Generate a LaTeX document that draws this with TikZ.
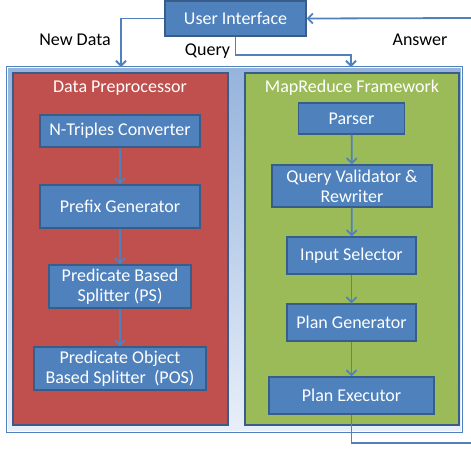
\documentclass[tikz,border=0pt]{standalone}
\usepackage{fontspec}
\setmainfont{Carlito}
\usetikzlibrary{arrows.meta}
\definecolor{boxblue}{HTML}{4F81BD}
\definecolor{boxedge}{HTML}{385D8A}
\definecolor{redfill}{HTML}{C0504D}
\definecolor{greenfill}{HTML}{9BBB59}
\definecolor{outertop}{HTML}{95B3DC}
\definecolor{outerbot}{HTML}{E8EFF9}
\tikzset{
  proc/.style={draw=boxedge, line width=1.2pt, fill=boxblue, text=white, align=center,
    inner sep=0pt, font=\fontsize{18}{20}\selectfont},
  conn/.style={draw=boxblue, line width=1.8pt, -{Straight Barb[length=5pt,width=10pt]}},
  plain/.style={draw=boxblue, line width=1.8pt},
  lbl/.style={font=\fontsize{18}{20}\selectfont, text=black},
  ttl/.style={font=\fontsize{18}{20}\selectfont, text=white},
}
\begin{document}
\begin{tikzpicture}[x=1pt,y=-1pt]
\useasboundingbox (0,0) rectangle (471,448);
% containers
\node[draw=boxblue, line width=1.5pt, top color=outertop, bottom color=outerbot,
  minimum width=455pt, minimum height=365pt, inner sep=0pt] (outer) at (234.5,249.5) {};
\draw[white, line width=0.8pt] ([shift={(1.6pt,1.6pt)}]outer.south west) rectangle ([shift={(-1.6pt,-1.6pt)}]outer.north east);
\node[draw=boxedge, line width=1.2pt, fill=redfill, minimum width=215pt, minimum height=352pt, inner sep=0pt] (dp) at (120.5,249) {};
\node[draw=boxedge, line width=1.2pt, fill=greenfill, minimum width=214pt, minimum height=352pt, inner sep=0pt] (mr) at (352,249) {};
\node[ttl] (dpt) at (120,88) {Data Preprocessor};
\node[ttl] (mrt) at (352,88) {MapReduce Framework};
% top
\node[proc, minimum width=141pt, minimum height=35pt] (ui) at (235.5,18.5) {User Interface};
% left column
\node[proc, minimum width=160pt, minimum height=32pt] (nt) at (120,131) {N-Triples Converter};
\node[proc, minimum width=160pt, minimum height=43pt] (pg) at (120,206.5) {Prefix Generator};
\node[proc, minimum width=142pt, minimum height=43pt] (ps) at (120,286.5) {Predicate Based\\Splitter (PS)};
\node[proc, minimum width=172pt, minimum height=43pt] (pos) at (120,368.5) {Predicate Object\\Based Splitter\ \ (POS)};
% right column
\node[proc, minimum width=106pt, minimum height=31pt] (parser) at (351.5,118.5) {Parser};
\node[proc, minimum width=160pt, minimum height=42pt] (qv) at (352,186) {Query Validator \&\\Rewriter};
\node[proc, minimum width=129pt, minimum height=37pt] (is) at (351.5,255.5) {Input Selector};
\node[proc, minimum width=129pt, minimum height=37pt] (pgen) at (351.5,322.5) {Plan Generator};
\node[proc, minimum width=165pt, minimum height=37pt] (pe) at (351.5,395.5) {Plan Executor};
% labels
\node[lbl] (ndl) at (75,40) {New Data};
\node[lbl] (ql) at (207.5,51) {Query};
\node[lbl] (al) at (420,40) {Answer};
% connectors
\coordinate (ndEnd) at (121,67);
\coordinate (qEnd) at (351,67);
\coordinate (ansStart) at (471,18);
\coordinate (ansEnd) at (471,443);
\draw[conn] (ui.west) -| (ndEnd);
\draw[conn] (ui.south) -- ++(0,18) -| (qEnd);
\draw[conn] (ansStart) -- (ui.east);
\draw[plain] (pe.south) |- (ansEnd);
\draw[conn] (nt) -- (pg);
\draw[conn] (pg) -- (ps);
\draw[conn] (ps) -- (pos);
\draw[conn] (parser) -- (qv);
\draw[conn] (qv) -- (is);
\draw[conn] (is) -- (pgen);
\draw[conn] (pgen) -- (pe);
\end{tikzpicture}
\end{document}
